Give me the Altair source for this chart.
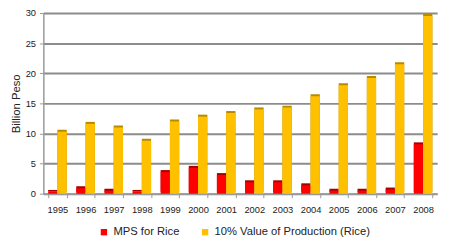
import altair as alt
import pandas as pd

years = ["1995", "1996", "1997", "1998", "1999", "2000", "2001",
         "2002", "2003", "2004", "2005", "2006", "2007", "2008"]
mps_rice = [0.3, 0.9, 0.5, 0.3, 3.6, 4.3, 3.1, 1.9, 1.9, 1.4, 0.5, 0.5, 0.7, 8.2]
vop_rice = [10.3, 11.6, 11.0, 8.8, 12.0, 12.8, 13.4, 14.0, 14.3, 16.2, 18.0, 19.2, 21.5, 29.5]
series_names = ["MPS for Rice", "10% Value of Production (Rice)"]
front_colors = ["#FF0000", "#FFC000"]
side_colors = ["#A80000", "#B88A00"]

rows = []
for y, a, b in zip(years, mps_rice, vop_rice):
    rows.append({"year": y, "series": series_names[0], "value": a})
    rows.append({"year": y, "series": series_names[1], "value": b})
df = pd.DataFrame(rows)

font = "Liberation Sans"

x_enc = alt.X("year:N", sort=years, title=None,
              scale=alt.Scale(paddingInner=0.34, paddingOuter=0.17),
              axis=alt.Axis(labelAngle=0, labelFontSize=9.5, labelFont=font,
                            labelColor="#222", labelPadding=7, tickBand="extent",
                            tickSize=4, tickColor="#999", domainColor="#999",
                            domainWidth=1.5, grid=False))
xoff = alt.XOffset("series:N", sort=series_names,
                   scale=alt.Scale(domain=series_names))
y_enc = alt.Y("value:Q", title="Billion Peso",
              scale=alt.Scale(domain=[0, 30], nice=False),
              axis=alt.Axis(values=[0, 5, 10, 15, 20, 25, 30], labelFontSize=9.5,
                            labelFont=font, labelColor="#222", tickSize=4,
                            tickColor="#999", labelPadding=4, domainColor="#999",
                            domainWidth=1.5, gridColor="#8c8c8c", gridWidth=2,
                            titleFont=font, titleFontSize=11.5,
                            titleFontWeight="normal", titleColor="#222",
                            titlePadding=4))

side = alt.Chart(df).mark_bar(xOffset=3, yOffset=-2).encode(
    x=x_enc, xOffset=xoff, y=y_enc,
    color=alt.Color("series:N", scale=alt.Scale(domain=series_names, range=side_colors),
                    legend=None),
)

front = alt.Chart(df).mark_bar().encode(
    x=x_enc, xOffset=xoff, y=y_enc,
    color=alt.Color("series:N", sort=series_names,
                    scale=alt.Scale(domain=series_names, range=front_colors),
                    legend=alt.Legend(title=None, orient="none", direction="horizontal",
                                      legendX=56, legendY=217, symbolType="square",
                                      symbolSize=42, symbolStrokeWidth=0,
                                      labelFont=font, labelFontSize=11.4,
                                      labelColor="#222", columnPadding=20,
                                      labelOffset=4)),
)

chart = alt.layer(side, front).resolve_scale(color="independent").properties(
    width=401, height=184,
    autosize=alt.AutoSizeParams(type="none"),
    padding={"left": 36, "top": 3, "right": 8, "bottom": 45},
).configure_view(stroke=None).configure_axis(labelFont=font)

chart.save("out.html", embed_options={"renderer": "svg", "actions": False})
